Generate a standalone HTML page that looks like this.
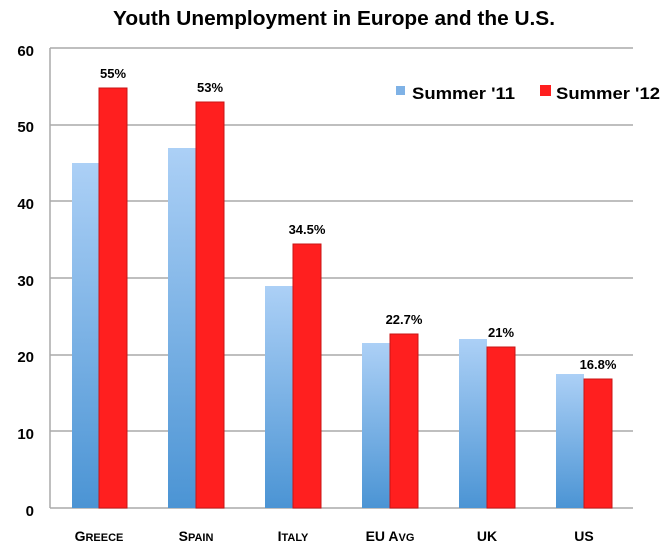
<!DOCTYPE html>
<html><head><style>body{margin:0;background:#fff}</style></head><body>
<svg width="670" height="549" xmlns="http://www.w3.org/2000/svg" font-family="Liberation Sans, sans-serif" font-weight="bold">
<defs>
<linearGradient id="b" x1="0" y1="0" x2="0" y2="1"><stop offset="0" stop-color="#acd0f6"/><stop offset="1" stop-color="#4b94d4"/></linearGradient>
</defs>
<rect width="670" height="549" fill="#fff"/>
<text x="334" y="25" text-anchor="middle" font-size="20" textLength="442" lengthAdjust="spacingAndGlyphs">Youth Unemployment in Europe and the U.S.</text>
<g stroke="#aaa" stroke-width="1.5">
<line x1="50" y1="48" x2="633" y2="48"/><line x1="50" y1="125" x2="633" y2="125"/><line x1="50" y1="201" x2="633" y2="201"/><line x1="50" y1="278" x2="633" y2="278"/><line x1="50" y1="355" x2="633" y2="355"/><line x1="50" y1="431" x2="633" y2="431"/><line x1="50" y1="508" x2="633" y2="508"/><line x1="50" y1="48" x2="50" y2="508"/>
</g>
<g font-size="15" text-anchor="end">
<text x="34" y="56">60</text><text x="34" y="132">50</text><text x="34" y="209">40</text><text x="34" y="286">30</text><text x="34" y="362">20</text><text x="34" y="439">10</text><text x="34" y="516">0</text>
</g>
<g fill="url(#b)">
<rect x="72" y="163" width="27" height="345"/>
<rect x="168" y="148" width="28" height="360"/>
<rect x="265" y="286" width="28" height="222"/>
<rect x="362" y="343" width="28" height="165"/>
<rect x="459" y="339" width="28" height="169"/>
<rect x="556" y="374" width="28" height="134"/>
</g>
<g fill="#ff1f1f" stroke="#c81414" stroke-width="1">
<rect x="99" y="88" width="28" height="420"/>
<rect x="196" y="102" width="28" height="406"/>
<rect x="293" y="244" width="28" height="264"/>
<rect x="390" y="334" width="28" height="174"/>
<rect x="487" y="347" width="28" height="161"/>
<rect x="584" y="379" width="28" height="129"/>
</g>
<g font-size="13" text-anchor="middle">
<text x="113" y="78">55%</text><text x="210" y="92">53%</text><text x="307" y="234">34.5%</text><text x="404" y="324">22.7%</text><text x="501" y="337">21%</text><text x="598" y="369">16.8%</text>
</g>
<g font-size="14" text-anchor="middle">
<text x="99" y="541">G<tspan font-size="11">REECE</tspan></text>
<text x="196" y="541">S<tspan font-size="11">PAIN</tspan></text>
<text x="293" y="541">I<tspan font-size="11">TALY</tspan></text>
<text x="390" y="541">EU A<tspan font-size="11">VG</tspan></text>
<text x="487" y="541">UK</text>
<text x="584" y="541">US</text>
</g>
<rect x="396" y="86" width="9" height="9" fill="#7fb2e6"/>
<text x="412" y="99" font-size="17" textLength="103" lengthAdjust="spacingAndGlyphs">Summer '11</text>
<rect x="540" y="85" width="11" height="11" fill="#ff1f1f"/>
<text x="556" y="99" font-size="17" textLength="104" lengthAdjust="spacingAndGlyphs">Summer '12</text>
</svg>
</body></html>
